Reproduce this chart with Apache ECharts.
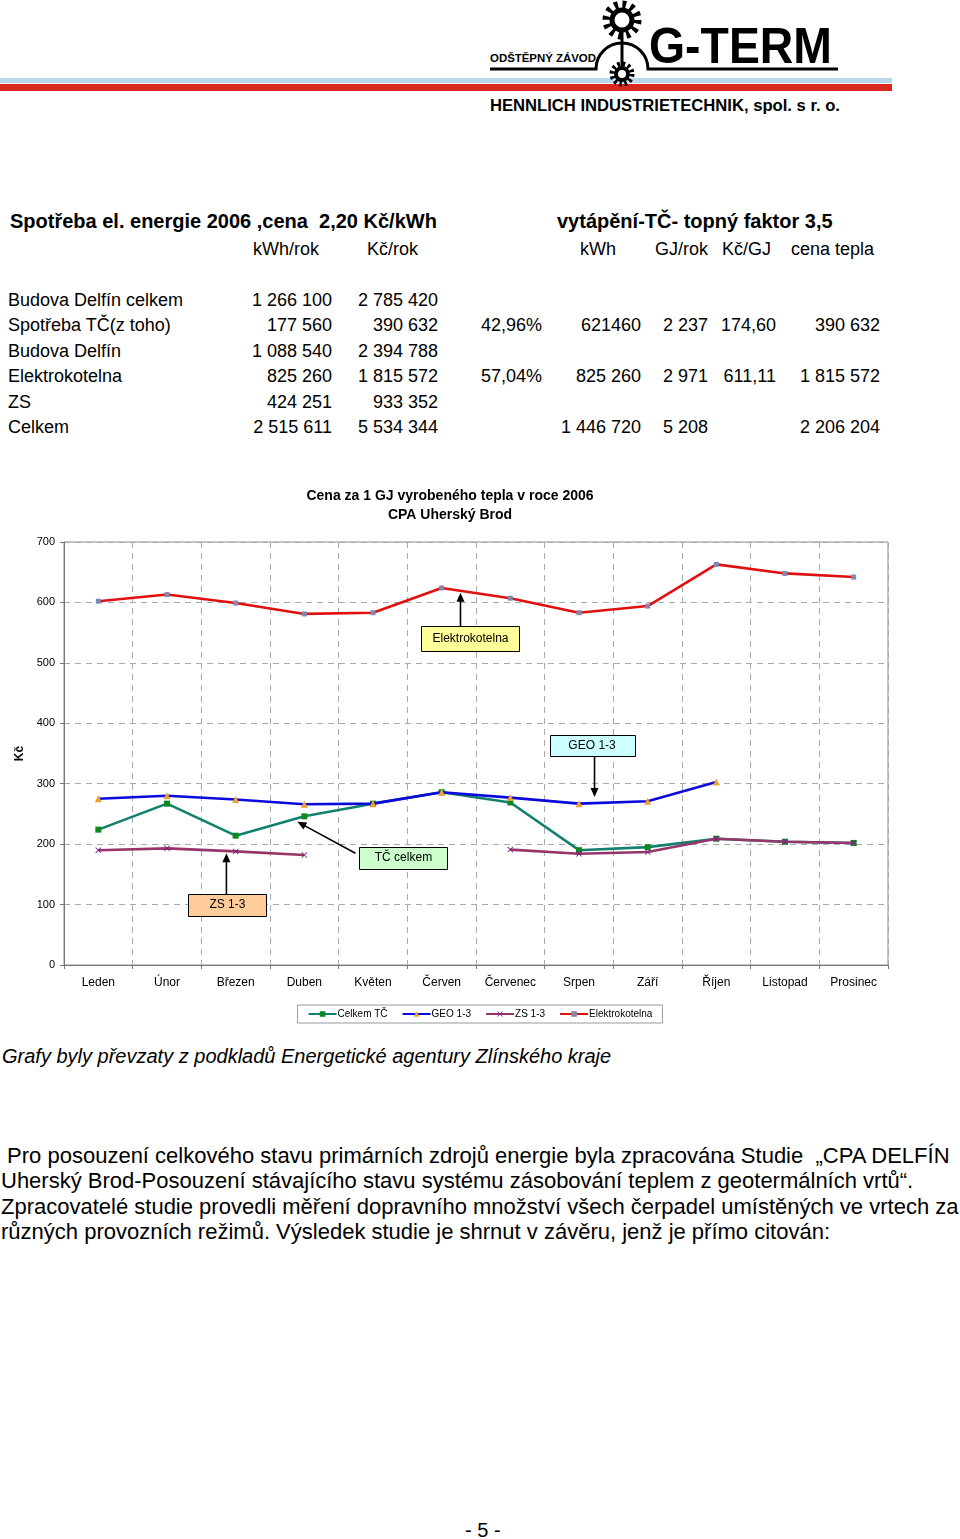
<!DOCTYPE html>
<html><head><meta charset="utf-8">
<script src="https://cdn.jsdelivr.net/npm/echarts@6/dist/echarts.min.js"></script>
<style>
html,body{margin:0;padding:0;background:#fff;}
body{width:960px;height:1539px;position:relative;overflow:hidden;font-family:"Liberation Sans",Arial,sans-serif;color:#000;}
.t{position:absolute;white-space:pre;font-size:18px;line-height:20px;}
.b{font-weight:bold;font-size:20px;line-height:22px;}
.p{position:absolute;white-space:pre;font-size:22px;line-height:24px;left:1px;}
#chart{position:absolute;left:0;top:470px;width:960px;height:570px;}
</style></head><body>
<svg style="position:absolute;left:0;top:0" width="960" height="120">
  <rect x="0" y="78" width="892" height="5" fill="#b9d9ea"/>
  <rect x="0" y="84" width="892" height="7" fill="#d9281e"/>
  <path d="M490,69 L596,69 A26,26 0 0 1 648,69 L838,69" fill="none" stroke="#000" stroke-width="3"/>
  <line x1="622" y1="30" x2="622" y2="70" stroke="#000" stroke-width="3"/>
  <circle cx="622" cy="20" r="15" fill="none" stroke="#000" stroke-width="9" stroke-dasharray="3.5 4.35"/>
  <circle cx="622" cy="20" r="10" fill="none" stroke="#000" stroke-width="5"/>
  <circle cx="622" cy="74" r="9.5" fill="none" stroke="#000" stroke-width="6" stroke-dasharray="2.5 2.5"/>
  <circle cx="622" cy="74" r="6" fill="none" stroke="#000" stroke-width="4"/>
  <text x="490" y="62" font-family="Liberation Sans" font-size="11" font-weight="bold" textLength="106" lengthAdjust="spacingAndGlyphs">ODŠTĚPNÝ ZÁVOD</text>
  <text x="649" y="63" font-family="Liberation Sans" font-size="50" font-weight="bold" textLength="183" lengthAdjust="spacingAndGlyphs">G-TERM</text>
  <text x="490" y="111" font-family="Liberation Sans" font-size="16" font-weight="bold" textLength="350" lengthAdjust="spacingAndGlyphs">HENNLICH INDUSTRIETECHNIK, spol. s r. o.</text>
</svg>

<div class="t b" style="left:10px;top:210px">Spotřeba el. energie 2006 ,cena  2,20 Kč/kWh</div>
<div class="t b" style="left:557px;top:210px">vytápění-TČ- topný faktor 3,5</div>
<div class="t" style="left:253px;top:239px">kWh/rok</div>
<div class="t" style="left:367px;top:239px">Kč/rok</div>
<div class="t" style="left:580px;top:239px">kWh</div>
<div class="t" style="left:655px;top:239px">GJ/rok</div>
<div class="t" style="left:722px;top:239px">Kč/GJ</div>
<div class="t" style="left:791px;top:239px">cena tepla</div>
<div id="tbl"></div>

<div class="p" style="top:1044px;left:2px;font-style:italic;font-size:20px;">Grafy byly převzaty z podkladů Energetické agentury Zlínského kraje</div>
<div class="p" style="top:1144px;"> Pro posouzení celkového stavu primárních zdrojů energie byla zpracována Studie  „CPA DELFÍN</div>
<div class="p" style="top:1169px;">Uherský Brod-Posouzení stávajícího stavu systému zásobování teplem z geotermálních vrtů“.</div>
<div class="p" style="top:1195px;">Zpracovatelé studie provedli měření dopravního množství všech čerpadel umístěných ve vrtech za</div>
<div class="p" style="top:1220px;">různých provozních režimů. Výsledek studie je shrnut v závěru, jenž je přímo citován:</div>
<div class="p" style="top:1518px;left:465px;font-size:20px;">- 5 -</div>

<div id="chart"></div>
<script>
// ---- table (text content) ----
const rowLabels = ['Budova Delfín celkem','Spotřeba TČ(z toho)','Budova Delfín','Elektrokotelna','ZS','Celkem'];
const colKWh    = ['1 266 100','177 560','1 088 540','825 260','424 251','2 515 611'];
const colKc     = ['2 785 420','390 632','2 394 788','1 815 572','933 352','5 534 344'];
const colShare  = ['','42,96%','','57,04%','',''];
const colTcKWh  = ['','621460','','825 260','','1 446 720'];
const colGJ     = ['','2 237','','2 971','','5 208'];
const colKcGJ   = ['','174,60','','611,11','',''];
const colCena   = ['','390 632','','1 815 572','','2 206 204'];

(function(){
  const rowY = [301,326,352,377,403,428];
  const cols = [[colKWh,332],[colKc,438],[colShare,542],[colTcKWh,641],[colGJ,708],[colKcGJ,776],[colCena,880]];
  let h='';
  rowLabels.forEach((lab,i)=>{
    const top = rowY[i]-11;
    h += `<div class="t" style="left:8px;top:${top}px">${lab}</div>`;
    cols.forEach(([arr,r])=>{ if(arr[i]) h += `<div class="t" style="right:${960-r}px;top:${top}px">${arr[i]}</div>`; });
  });
  document.getElementById('tbl').innerHTML = h;
})();

// ---- chart data ----
const months = ['Leden','Únor','Březen','Duben','Květen','Červen','Červenec','Srpen','Září','Říjen','Listopad','Prosinec'];
const celkemTC = [224,267,214,246,267,286,269,190,195,209,204,202];
const geo13    = [275,280,274,266,267,286,277,267,271,303,null,null];
const zs13     = [190,193,188,182,null,null,191,184,187,209,204,202];
const elektro  = [602,613,599,581,583,624,607,583,594,663,648,642];
const seriesNames = ['Celkem TČ','GEO 1-3','ZS 1-3','Elektrokotelna'];
const titleLines = ['Cena za 1 GJ vyrobeného tepla v roce 2006','CPA Uherský Brod'];

const xSym = 'path://M0,1 L1,0 L5,4 L9,0 L10,1 L6,5 L10,9 L9,10 L5,6 L1,10 L0,9 L4,5 Z';
const chart = echarts.init(document.getElementById('chart'), null, {renderer:'canvas'});
function mk(name, data, lineColor, sym, symColor, size, z){
  return {name, type:'line', data, connectNulls:false, symbol:sym, symbolSize:size, showAllSymbol:true,
    lineStyle:{color:lineColor,width:2.6}, itemStyle:{color:symColor,borderWidth:0}, z, animation:false};
}
chart.setOption({
  animation:false,
  grid:{left:64,right:72,top:72,bottom:75,show:true,borderColor:'#8c8c8c',borderWidth:1,backgroundColor:'#fff'},
  legend:{top:535,left:'center',data:seriesNames,borderColor:'#999',borderWidth:1,padding:[4,10],itemGap:14,itemWidth:28,itemHeight:7,
    textStyle:{fontSize:10,color:'#000',fontFamily:'Liberation Sans',padding:[0,0,0,-4]}},
  xAxis:{type:'category',data:months,boundaryGap:true,
    axisLine:{lineStyle:{color:'#777',width:1}},axisTick:{show:true,length:4,lineStyle:{color:'#777'}},
    axisLabel:{fontSize:12,color:'#000',margin:12,fontFamily:'Liberation Sans',interval:0},
    splitLine:{show:true,lineStyle:{color:'#aaa',type:[6,5]}}},
  yAxis:{type:'value',min:0,max:700,interval:100,
    name:'Kč',nameLocation:'middle',nameGap:36,nameRotate:90,nameTextStyle:{fontSize:12,fontWeight:'bold',color:'#000',fontFamily:'Liberation Sans'},
    axisLine:{show:true,lineStyle:{color:'#777'}},axisTick:{show:true,length:4,lineStyle:{color:'#777'}},
    axisLabel:{fontSize:11,color:'#000',margin:9,fontFamily:'Liberation Sans'},
    splitLine:{show:true,lineStyle:{color:'#aaa',type:[6,5]}}},
  series:[
    mk(seriesNames[0], celkemTC, '#11806e','rect','#0a8a1e',6,2),
    mk(seriesNames[1], geo13, '#0a0adc','triangle','#f0a030',7,3),
    mk(seriesNames[2], zs13, '#96356a', xSym,'#7a1f8a',6,4),
    mk(seriesNames[3], elektro, '#e01010','rect','#8088b0',5,5)
  ]
});

// ---- annotations positioned via the axes ----
const x0 = chart.convertToPixel({xAxisIndex:0}, 0);
const step = (chart.convertToPixel({xAxisIndex:0}, 11) - x0)/11;
const px = i => x0 + i*step;
const py = v => chart.convertToPixel({yAxisIndex:0}, v);
const notes = [
  {text:'Elektrokotelna', fill:'#ffff99', box:[4.706,561,6.134,520], from:[5.274,561], to:[5.274,616]},
  {text:'GEO 1-3', fill:'#ccffff', box:[6.571,381,7.809,346], from:[7.226,346], to:[7.226,278]},
  {text:'TČ celkem', fill:'#ccffcc', box:[3.802,195,5.085,159], from:[3.744,185], to:[2.899,237]},
  {text:'ZS 1-3', fill:'#ffcc99', box:[1.311,117.5,2.448,81], from:[1.865,117.5], to:[1.865,185]}
];
const g = [];
titleLines.forEach((s,i)=>g.push({type:'text',x:450,y:26+i*19,z:10,style:{text:s,textAlign:'center',textVerticalAlign:'middle',
  font:'bold 14px "Liberation Sans"',fill:'#000'}}));
notes.forEach(n=>{
  const bx1=px(n.box[0]), by1=py(n.box[1]), bx2=px(n.box[2]), by2=py(n.box[3]);
  g.push({type:'rect',z:20,shape:{x:Math.round(bx1)+0.5,y:Math.round(by1)+0.5,width:Math.round(bx2-bx1),height:Math.round(by2-by1)},
    style:{fill:n.fill,stroke:'#000',lineWidth:1}});
  g.push({type:'text',z:21,x:(bx1+bx2)/2,y:(by1+by2)/2,style:{text:n.text,textAlign:'center',textVerticalAlign:'middle',font:'12px "Liberation Sans"',fill:'#000'}});
  const fx=px(n.from[0]), fy=py(n.from[1]), tx=px(n.to[0]), ty=py(n.to[1]);
  const L=Math.hypot(tx-fx,ty-fy), dx=(tx-fx)/L, dy=(ty-fy)/L, hl=9, hw=4;
  g.push({type:'line',z:20,shape:{x1:fx,y1:fy,x2:tx-dx*(hl-2),y2:ty-dy*(hl-2)},style:{stroke:'#000',lineWidth:1.6}});
  g.push({type:'polygon',z:20,shape:{points:[[tx,ty],[tx-dx*hl-dy*hw,ty-dy*hl+dx*hw],[tx-dx*hl+dy*hw,ty-dy*hl-dx*hw]]},style:{fill:'#000'}});
});
chart.setOption({graphic:g});
</script>
</body></html>
